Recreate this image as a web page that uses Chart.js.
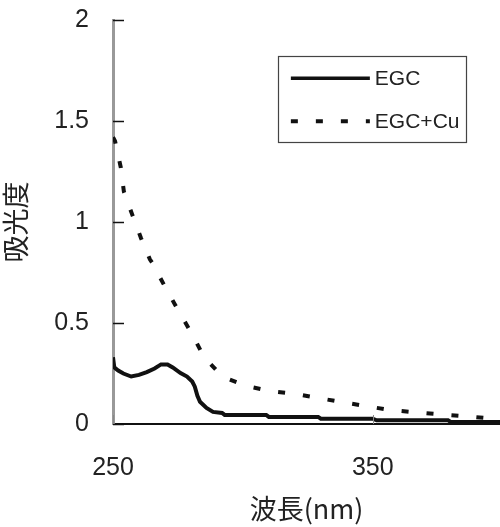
<!DOCTYPE html>
<html>
<head>
<meta charset="utf-8">
<script src="https://cdn.jsdelivr.net/npm/chart.js@4.4.0/dist/chart.umd.min.js"></script>
<style>
  html, body { margin: 0; padding: 0; background: #fff; }
  #wrap { width: 500px; height: 527px; }
</style>
</head>
<body>
<div id="wrap"><canvas id="grafico"></canvas></div>
<script>
// 波長 (nm) と吸光度 - EGC
const egcX = [250, 250.5, 252, 254, 257, 260, 263, 266, 268.5, 271, 273, 276, 278.5, 280.5, 281.5, 282.5, 283.5, 286, 288.5, 292, 293, 309, 310, 329, 330, 350, 351.5, 379, 380, 400]
const egcY = [0.33, 0.28, 0.265, 0.25, 0.235, 0.243, 0.257, 0.275, 0.295, 0.295, 0.28, 0.252, 0.235, 0.21, 0.185, 0.14, 0.11, 0.08, 0.06, 0.055, 0.045, 0.045, 0.035, 0.035, 0.026, 0.026, 0.018, 0.018, 0.01, 0.01]

// EGC+Cu
const cuX = [250, 250.8, 253, 254.2, 257.3, 260.8, 264.2, 265, 270, 275, 280.4, 285, 292.3, 301.5, 310.4, 320, 328.8, 338, 347.3, 356.5, 365.4, 374.6, 384.2, 393, 400]
const cuY = [1.42, 1.40, 1.27, 1.15, 1.04, 0.92, 0.815, 0.80, 0.68, 0.565, 0.446, 0.332, 0.233, 0.188, 0.163, 0.149, 0.129, 0.109, 0.089, 0.069, 0.059, 0.049, 0.04, 0.03, 0.025]

const seriesNames = ['EGC', 'EGC+Cu']
const xTicks = [250, 350]
const yTicks = [0, 0.5, 1, 1.5, 2]
const xTitle = '波長(nm)'
const yTitle = '吸光度'

const numFont = 'Liberation Sans'
const cjkFont = '"Noto Sans CJK JP", sans-serif'

function toPoints(xs, ys) {
    return xs.map((x, i) => ({ x: x, y: ys[i] }))
}

// ticks hacia adentro
const innerTicks = {
    id: 'innerTicks',
    afterDraw(chart) {
        const { ctx, chartArea, scales } = chart
        ctx.save()
        ctx.strokeStyle = '#111'
        ctx.lineWidth = 1.5
        scales.y.ticks.forEach(t => {
            const y = Math.round(scales.y.getPixelForValue(t.value)) + 0.5
            ctx.beginPath()
            ctx.moveTo(chartArea.left, y)
            ctx.lineTo(chartArea.left + 11, y)
            ctx.stroke()
        })
        ctx.strokeStyle = '#888'
        ctx.lineWidth = 1
        scales.x.ticks.forEach(t => {
            const x = Math.round(scales.x.getPixelForValue(t.value)) + 0.5
            ctx.beginPath()
            ctx.moveTo(x, chartArea.bottom)
            ctx.lineTo(x, chartArea.bottom - 9)
            ctx.stroke()
        })
        ctx.restore()
    }
}

// leyenda con recuadro
const boxLegend = {
    id: 'boxLegend',
    afterDraw(chart) {
        const { ctx, chartArea } = chart
        const w = chartArea.right - chartArea.left
        const h = chartArea.bottom - chartArea.top
        const left = chartArea.left + w * 0.426
        const right = chartArea.left + w * 0.912
        const top = chartArea.top + h * 0.089
        const bottom = chartArea.top + h * 0.302
        ctx.save()
        ctx.strokeStyle = '#444'
        ctx.lineWidth = 1.2
        ctx.strokeRect(Math.round(left) + 0.5, Math.round(top) + 0.5, Math.round(right - left), Math.round(bottom - top))
        ctx.font = '21px ' + numFont
        ctx.fillStyle = '#222'
        ctx.textBaseline = 'middle'
        const rows = [top + (bottom - top) * 0.26, top + (bottom - top) * 0.76]
        chart.data.datasets.forEach((ds, i) => {
            const y = rows[i]
            ctx.beginPath()
            ctx.strokeStyle = '#111'
            ctx.lineWidth = i === 0 ? 3.5 : 4
            ctx.setLineDash(ds.borderDash || [])
            ctx.moveTo(left + 13, y)
            ctx.lineTo(left + 92, y)
            ctx.stroke()
            ctx.setLineDash([])
            ctx.fillText(ds.label, left + 97, y + 1)
        })
        ctx.restore()
    }
}

const config = {
    type: 'line',
    data: {
        datasets: [
            {
                label: seriesNames[0],
                data: toPoints(egcX, egcY),
                borderColor: '#111',
                borderWidth: 4,
                pointRadius: 0,
                tension: 0
            },
            {
                label: seriesNames[1],
                data: toPoints(cuX, cuY),
                borderColor: '#111',
                borderWidth: 4,
                borderDash: [7, 18],
                pointRadius: 0,
                tension: 0
            }
        ]
    },
    options: {
        responsive: true,
        maintainAspectRatio: false,
        animation: false,
        layout: { padding: { top: 20, right: 0, left: 0, bottom: 0 } },
        plugins: {
            legend: { display: false },
            tooltip: { enabled: false }
        },
        scales: {
            x: {
                type: 'linear',
                min: 250,
                max: 399,
                afterBuildTicks: scale => { scale.ticks = xTicks.map(v => ({ value: v })) },
                afterFit: scale => { scale.height = 103 },
                grid: { display: false, drawTicks: false },
                border: { color: '#111', width: 2 },
                ticks: {
                    padding: 29,
                    color: '#222',
                    font: { family: numFont, size: 25 },
                    callback: v => String(v)
                },
                title: {
                    display: true,
                    text: xTitle,
                    color: '#222',
                    padding: { top: 0, bottom: 2 },
                    font: { family: cjkFont, size: 27 }
                }
            },
            y: {
                min: 0,
                max: 2,
                afterBuildTicks: scale => { scale.ticks = yTicks.map(v => ({ value: v })) },
                afterFit: scale => {
                    scale.width = 113
                    scale.paddingTop = 0
                    scale.paddingBottom = 0
                },
                grid: { display: false, drawTicks: false },
                border: { color: '#999', width: 3 },
                ticks: {
                    padding: 24,
                    color: '#222',
                    font: { family: numFont, size: 25 },
                    callback: v => String(v)
                },
                title: {
                    display: true,
                    text: yTitle,
                    color: '#222',
                    padding: { top: 0, bottom: 0 },
                    font: { family: cjkFont, size: 27 }
                }
            }
        }
    },
    plugins: [innerTicks, boxLegend]
}

new Chart(document.getElementById('grafico'), config)
</script>
</body>
</html>
